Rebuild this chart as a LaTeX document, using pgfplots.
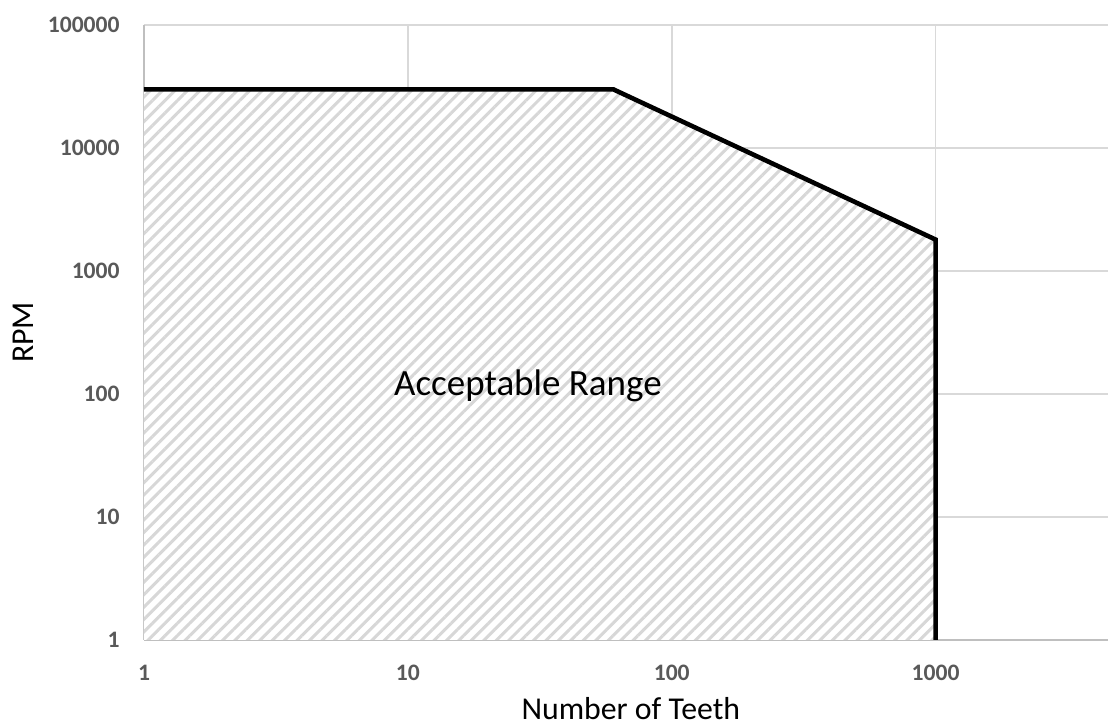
\documentclass[border=0pt]{standalone}
\usepackage{fontspec}
\setmainfont{Carlito}
\usepackage{pgfplots}
\pgfplotsset{compat=1.18}
\usetikzlibrary{patterns.meta}
\definecolor{gridgray}{RGB}{217,217,217}
\definecolor{axisgray}{RGB}{191,191,191}
\definecolor{ticktext}{RGB}{89,89,89}
\definecolor{hatch}{RGB}{215,215,215}
\begin{document}
\begin{tikzpicture}
\useasboundingbox (-72pt,-43pt) rectangle (482pt,320pt);
\begin{axis}[
  at={(0,0)}, anchor=south west,
  scale only axis, width=482pt, height=307.5pt,
  xmode=log, ymode=log,
  xmin=1, xmax=4500, ymin=1, ymax=100000,
  xtick={1,10,100,1000}, xticklabels={1,10,100,1000},
  ytick={1,10,100,1000,10000,100000},
  yticklabels={1,10,100,1000,10000,100000},
  minor xtick={}, minor ytick={},
  tick style={draw=none}, major tick length=0pt,
  grid=major,
  major grid style={draw=gridgray, line width=0.75pt},
  axis x line*=bottom, axis y line*=left,
  axis line style={draw=axisgray, line width=0.75pt, -},
  ticklabel style={font=\fontsize{11.8}{14}\selectfont\bfseries, text=ticktext, inner sep=0pt},
  xticklabel style={anchor=center, yshift=-16.25pt},
  yticklabel style={anchor=east, xshift=-12pt},
  xlabel={Number of Teeth},
  ylabel={RPM},
  xlabel style={at={(axis description cs:0.505,-0.130)}, anchor=base, font=\fontsize{15.9}{18}\selectfont, inner sep=0pt},
  ylabel style={at={(axis description cs:-0.1255,0.5)}, anchor=center, font=\fontsize{15.9}{18}\selectfont, inner sep=0pt},
]
\addplot[draw=none, preaction={fill=white}, pattern={Lines[angle=45, distance=4.4pt, line width=1.5pt]}, pattern color=hatch]
  coordinates {(1,1) (1,30000) (60,30000) (1000,1800) (1000,1)} -- cycle;
\addplot[black, line width=2.3pt, line join=miter]
  coordinates {(1,30000) (60,30000) (1000,1800) (1000,1)};
\node[anchor=base, font=\fontsize{18.5}{22}\selectfont, inner sep=0pt] at (axis cs:28.5,98) {Acceptable Range};
\end{axis}
\end{tikzpicture}
\end{document}
